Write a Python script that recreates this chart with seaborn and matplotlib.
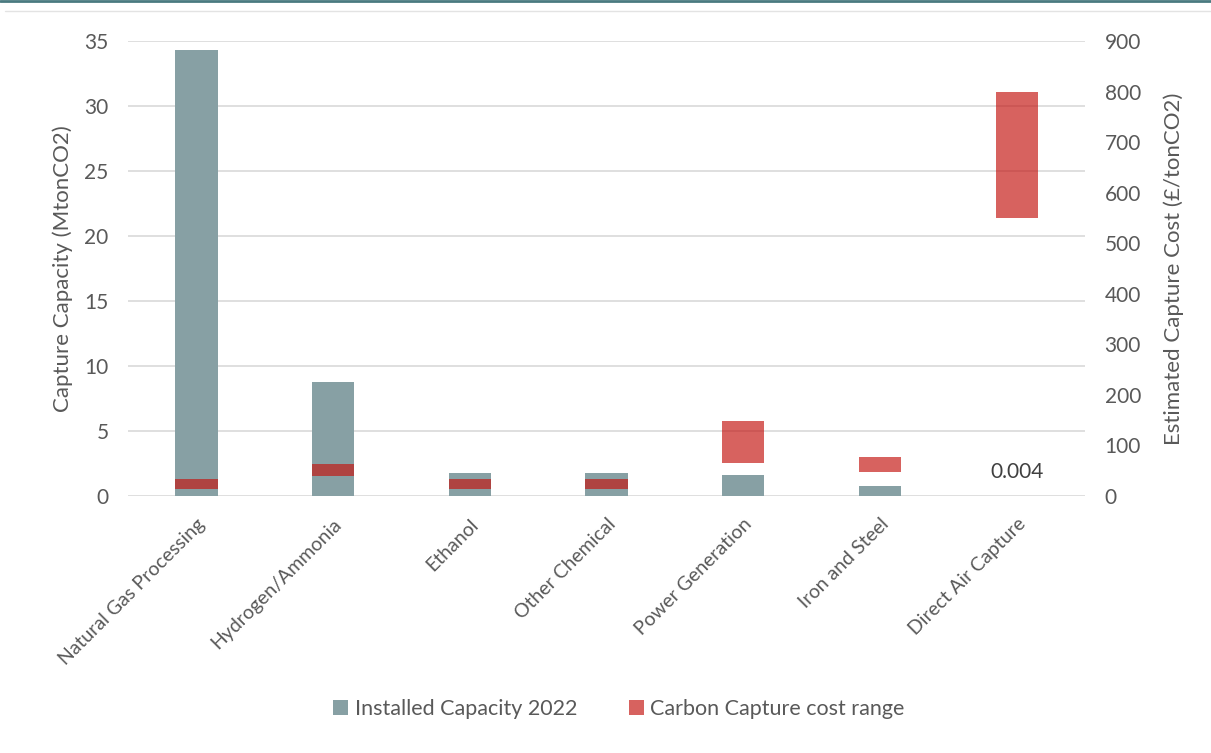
import matplotlib
matplotlib.use("Agg")
import matplotlib.pyplot as plt
from matplotlib.lines import Line2D
from matplotlib.patches import Patch
import seaborn as sns
import pandas as pd

# Data
sectors = ["Natural Gas Processing", "Hydrogen/Ammonia", "Ethanol", "Other Chemical",
           "Power Generation", "Iron and Steel", "Direct Air Capture"]
installed_capacity = [34.3, 8.8, 1.75, 1.75, 1.6, 0.8, 0.004]   # MtonCO2
cost_low = [14, 40, 14, 14, 65, 48, 550]                        # £/tonCO2
cost_high = [34, 64, 34, 34, 148, 78, 800]                      # £/tonCO2

df = pd.DataFrame({
    "sector": sectors,
    "capacity": installed_capacity,
    "low": cost_low,
    "span": [h - l for h, l in zip(cost_high, cost_low)],
})

sns.set_theme(style="white")
plt.rcParams["font.family"] = ["Lato", "DejaVu Sans"]
text_col = "#595959"
grey = "#87A0A4"
red = "#C41511"
red_alpha = 0.67

fig = plt.figure(figsize=(12.11, 7.53), dpi=100)
ax = fig.add_axes([0.1057, 0.3413, 0.7903, 0.6043])

sns.barplot(data=df, x="sector", y="capacity", order=sectors, color=grey,
            saturation=1, width=0.31, ax=ax, zorder=2, edgecolor="none", linewidth=0)
ax.set_ylim(0, 35)
ax.set_yticks(range(0, 36, 5))
ax.set_xlim(-0.5, 6.5)
ax.grid(axis="y", color="#D9D9D9", linewidth=1.2, zorder=0)
ax.set_axisbelow(True)
for s in ax.spines.values():
    s.set_visible(False)
ax.set_xlabel("")
ax.set_ylabel("Capture Capacity (MtonCO2)", fontsize=16, color=text_col, labelpad=8)
ax.tick_params(axis="y", labelsize=15, colors=text_col, length=0, pad=14)
ax.tick_params(axis="x", labelsize=14, colors=text_col, length=0, pad=14)
plt.setp(ax.get_xticklabels(), rotation=45, ha="right", rotation_mode="anchor")

# value label for the tiny DAC capacity
ax.annotate(f"{installed_capacity[-1]:g}", xy=(6, installed_capacity[-1]),
            xytext=(0, 10), textcoords="offset points", ha="center", va="bottom",
            fontsize=15, color="#404040")

ax2 = ax.twinx()
sns.barplot(data=df, x="sector", y="span", order=sectors, color=red,
            saturation=1, width=0.31, ax=ax2, bottom=df["low"].values,
            alpha=red_alpha, zorder=3, edgecolor="none", linewidth=0)
ax2.set_ylim(0, 900)
ax2.set_yticks(range(0, 901, 100))
ax2.set_xlim(-0.5, 6.5)
for s in ax2.spines.values():
    s.set_visible(False)
ax2.grid(False)
ax2.set_ylabel("Estimated Capture Cost (£/tonCO2)", fontsize=16, color=text_col, labelpad=16)
ax2.tick_params(axis="y", labelsize=15, colors=text_col, length=0, pad=14)

# legend
handles = [Patch(facecolor=grey, edgecolor="none", label="Installed Capacity 2022"),
           Patch(facecolor=red, alpha=red_alpha, edgecolor="none", label="Carbon Capture cost range")]
fig.legend(handles=handles, loc="center", bbox_to_anchor=(0.511, 0.058), ncol=2,
           frameon=False, fontsize=15.5, handlelength=0.7, handleheight=0.7,
           handletextpad=0.3, columnspacing=2.4, labelcolor=text_col)

# header rules
fig.add_artist(Line2D([0, 1], [0.999, 0.999], transform=fig.transFigure,
                      color="#4A7A80", linewidth=2))
fig.add_artist(Line2D([0.004, 1], [0.986, 0.986], transform=fig.transFigure,
                      color="#E3E3E3", linewidth=1))

fig.savefig("out.png", dpi=100)
